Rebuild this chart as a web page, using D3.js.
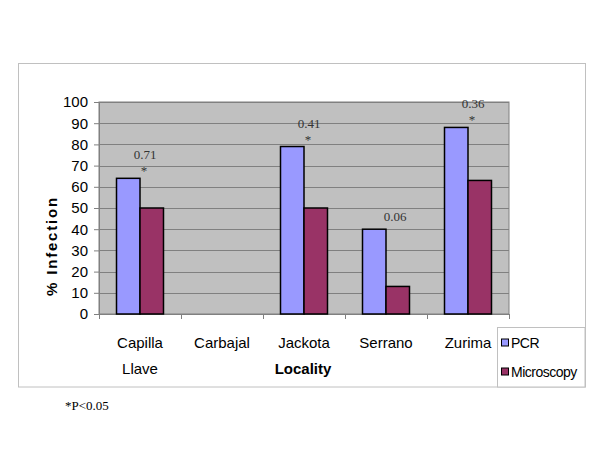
<!DOCTYPE html>
<html>
<head>
<meta charset="utf-8">
<script src="https://cdn.jsdelivr.net/npm/d3@7"></script>
<style>
  html, body { margin: 0; padding: 0; background: #fff; }
  svg { display: block; }
</style>
</head>
<body>
<svg id="chart" width="600" height="450"></svg>
<script>
const categories = ["Capilla Llave", "Carbajal", "Jackota", "Serrano", "Zurima"];
const seriesNames = ["PCR", "Microscopy"];
const pcrValues = [64, null, 79, 40, 88];
const microscopyValues = [50, null, 50, 13, 63];
const pValues = ["0.71", "", "0.41", "0.06", "0.36"];
const significant = [true, false, true, false, true];
const yTicks = [0, 10, 20, 30, 40, 50, 60, 70, 80, 90, 100];
const seriesColors = ["#9999ff", "#993366"];

const svg = d3.select("#chart");
const plot = { left: 99, top: 102, right: 509, bottom: 314 };

// outer chart border
svg.append("rect").attr("x", 18.5).attr("y", 63.5).attr("width", 567).attr("height", 323.5)
  .attr("fill", "#fff").attr("stroke", "#c0c0c0").attr("stroke-width", 1);

const x = d3.scaleBand().domain(categories).range([plot.left, plot.right]).padding(0);
const xs = d3.scaleBand().domain(seriesNames).range([0, x.bandwidth()]).paddingInner(0).paddingOuter(0.745);
const y = d3.scaleLinear().domain([0, 100]).range([plot.bottom, plot.top]);

// plot background
svg.append("rect").attr("x", plot.left).attr("y", plot.top)
  .attr("width", plot.right - plot.left).attr("height", plot.bottom - plot.top)
  .attr("fill", "#c0c0c0").attr("stroke", "#808080").attr("stroke-width", 1);

// gridlines
svg.append("g").selectAll("line").data(yTicks.filter(t => t > 0)).join("line")
  .attr("x1", plot.left).attr("x2", plot.right)
  .attr("y1", d => Math.round(y(d)) + 0.5).attr("y2", d => Math.round(y(d)) + 0.5)
  .attr("stroke", "#808080").attr("stroke-width", 1);

// y axis
const yAxis = svg.append("g").attr("transform", `translate(${plot.left},0)`)
  .call(d3.axisLeft(y).tickValues(yTicks).tickSize(5).tickPadding(6));
yAxis.select(".domain").attr("stroke", "#808080");
yAxis.selectAll(".tick line").attr("stroke", "#808080");
yAxis.selectAll("text").attr("font-family", "Liberation Sans, Arial, sans-serif")
  .attr("font-size", 15).attr("fill", "#000");

// x axis
const xAxis = svg.append("g").attr("transform", `translate(0,${plot.bottom})`)
  .call(d3.axisBottom(x).tickSize(0).tickFormat(""));
xAxis.select(".domain").attr("stroke", "#808080");
svg.append("g").selectAll("line").data(categories.concat(["__end"])).join("line")
  .attr("x1", (d, i) => Math.round(plot.left + i * x.step()) + 0.5)
  .attr("x2", (d, i) => Math.round(plot.left + i * x.step()) + 0.5)
  .attr("y1", plot.bottom).attr("y2", plot.bottom + 5)
  .attr("stroke", "#808080");

// category labels
const catLabels = svg.append("g").selectAll("text").data(categories).join("text")
  .attr("x", d => x(d) + x.bandwidth() / 2)
  .attr("y", 348)
  .attr("text-anchor", "middle")
  .attr("font-family", "Liberation Sans, Arial, sans-serif")
  .attr("font-size", 15).attr("fill", "#000");
catLabels.each(function(d) {
  const parts = d.split(" ");
  const t = d3.select(this);
  parts.forEach((p, i) => {
    t.append("tspan").attr("x", x(d) + x.bandwidth() / 2).attr("dy", i === 0 ? 0 : 25.5).text(p);
  });
});

// bars
const rows = categories.map((c, i) => ({ cat: c, vals: [pcrValues[i], microscopyValues[i]] }));
const groups = svg.append("g").selectAll("g").data(rows).join("g")
  .attr("transform", d => `translate(${x(d.cat)},0)`);
groups.selectAll("rect").data(d => d.vals.map((v, j) => ({ v, s: seriesNames[j], j })).filter(e => e.v != null))
  .join("rect")
  .attr("x", e => xs(e.s))
  .attr("y", e => y(e.v))
  .attr("width", xs.bandwidth())
  .attr("height", e => y(0) - y(e.v))
  .attr("fill", e => seriesColors[e.j])
  .attr("stroke", "#000").attr("stroke-width", 1.5);

// annotations (p-values and significance stars)
const ann = svg.append("g");
categories.forEach((c, i) => {
  if (!pValues[i]) return;
  const cx = x(c) + x.bandwidth() / 2 + 5;
  const top = y(pcrValues[i]);
  if (significant[i]) {
    ann.append("text").attr("x", cx - 1).attr("y", top - 3)
      .attr("text-anchor", "middle").attr("font-family", "Liberation Serif, Times New Roman, serif")
      .attr("font-size", 13).attr("fill", "#333").text("*");
    ann.append("text").attr("x", cx).attr("y", top - 19)
      .attr("text-anchor", "middle").attr("font-family", "Liberation Serif, Times New Roman, serif")
      .attr("font-size", 13).attr("fill", "#333").text(pValues[i]);
  } else {
    ann.append("text").attr("x", cx + 4).attr("y", top - 8)
      .attr("text-anchor", "middle").attr("font-family", "Liberation Serif, Times New Roman, serif")
      .attr("font-size", 13).attr("fill", "#333").text(pValues[i]);
  }
});

// axis titles
svg.append("text").attr("transform", "translate(57,246) rotate(-90)")
  .attr("text-anchor", "middle").attr("font-family", "Liberation Sans, Arial, sans-serif")
  .attr("font-size", 15).attr("font-weight", "bold").attr("letter-spacing", 1.8)
  .attr("fill", "#000").text("% Infection");
svg.append("text").attr("x", 303).attr("y", 373.5)
  .attr("text-anchor", "middle").attr("font-family", "Liberation Sans, Arial, sans-serif")
  .attr("font-size", 15).attr("font-weight", "bold").attr("fill", "#000").text("Locality");

// legend
const lg = svg.append("g");
lg.append("rect").attr("x", 497.5).attr("y", 327.5).attr("width", 87.5).attr("height", 59.5)
  .attr("fill", "#fff").attr("stroke", "#c0c0c0");
seriesNames.forEach((s, i) => {
  const cy = 342.5 + i * 29;
  lg.append("rect").attr("x", 501.5).attr("y", cy - 3.5).attr("width", 7).attr("height", 7)
    .attr("fill", seriesColors[i]).attr("stroke", "#000").attr("stroke-width", 1);
  lg.append("text").attr("x", 511).attr("y", cy + 5)
    .attr("font-family", "Liberation Sans, Arial, sans-serif").attr("font-size", 14)
    .attr("letter-spacing", -0.5).attr("fill", "#000").text(s);
});

// footnote
svg.append("text").attr("x", 65).attr("y", 410)
  .attr("font-family", "Liberation Serif, Times New Roman, serif")
  .attr("font-size", 13).attr("fill", "#000").text("*P<0.05");
</script>
</body>
</html>
